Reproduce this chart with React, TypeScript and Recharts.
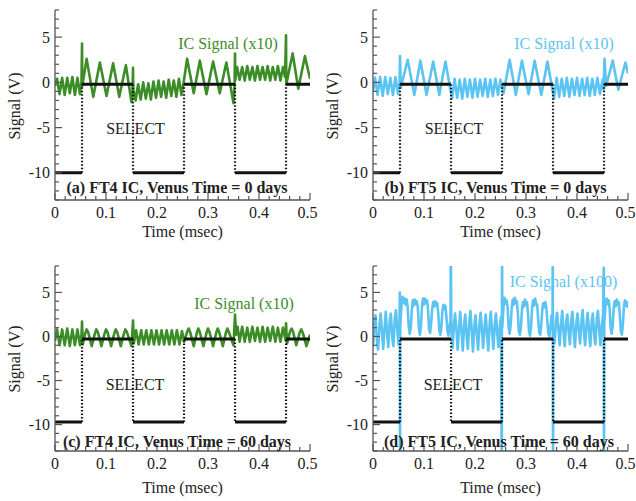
import React from 'react'
import { LineChart, Line, XAxis, YAxis } from 'recharts'

type Pt = [number, number]

// axis ticks
const xTicks = [0, 0.02, 0.04, 0.06, 0.08, 0.1, 0.12, 0.14, 0.16, 0.18, 0.2, 0.22, 0.24, 0.26, 0.28, 0.3, 0.32, 0.34, 0.36, 0.38, 0.4, 0.42, 0.44, 0.46, 0.48, 0.5]
const xMajor = [0, 0.1, 0.2, 0.3, 0.4, 0.5]
const yTicks = [-13, -12, -11, -10, -9, -8, -7, -6, -5, -4, -3, -2, -1, 0, 1, 2, 3, 4, 5, 6, 7, 8]
const yMajor = [-10, -5, 0, 5]

// SELECT line (V)
const selectTop: Pt[] = [[0, -10], [0.053, -10], [0.053, -0.2], [0.153, -0.2], [0.153, -10], [0.253, -10], [0.253, -0.2], [0.353, -0.2], [0.353, -10], [0.453, -10], [0.453, -0.2], [0.5, -0.2]]
const selectBottom: Pt[] = [[0, -9.7], [0.053, -9.7], [0.053, -0.3], [0.153, -0.3], [0.153, -9.7], [0.253, -9.7], [0.253, -0.3], [0.353, -0.3], [0.353, -9.7], [0.453, -9.7], [0.453, -0.3], [0.5, -0.3]]

// IC signals
const icA: Pt[] = [
  [0, -0.4], [0.004, 0.4], [0.009, -1.3], [0.014, 0.5], [0.019, -1.4], [0.024, 0.5], [0.029, -1.2], [0.034, 0.6], [0.039, -1.4], [0.044, 0.5], [0.049, -1.3], [0.052, 0.1],
  [0.053, 4.3], [0.0535, -0.4], [0.062, 2.6], [0.075, -1.6], [0.088, 2.2], [0.101, -1.5], [0.114, 2.1], [0.126, -1.6], [0.139, 1.9], [0.15, -2.2],
  [0.152, -1.0], [0.153, 1.6], [0.1535, -0.8], [0.158, -2.0], [0.163, -0.2], [0.168, -1.9], [0.173, 0.0], [0.178, -1.8], [0.183, -0.1], [0.188, -1.9], [0.193, 0.1], [0.198, -1.7], [0.203, 0.2], [0.208, -1.6], [0.213, 0.1], [0.218, -1.7], [0.223, 0.3], [0.228, -1.5], [0.233, 0.2], [0.238, -1.6], [0.243, 0.4], [0.248, -1.4], [0.253, 0.3],
  [0.259, 2.6], [0.272, -1.2], [0.284, 2.4], [0.297, -1.3], [0.31, 2.3], [0.323, -1.2], [0.336, 2.2], [0.35, -2.3],
  [0.352, -0.5], [0.353, 3.2], [0.3535, 0.2], [0.357, 1.7], [0.362, 0.3], [0.367, 1.7], [0.372, 0.2], [0.377, 1.8], [0.382, 0.3], [0.387, 1.7], [0.392, 0.2], [0.397, 1.8], [0.402, 0.3], [0.407, 1.7], [0.412, 0.3], [0.417, 1.8], [0.422, 0.2], [0.427, 1.7], [0.432, 0.3], [0.437, 1.8], [0.442, 0.2], [0.447, 1.7], [0.451, 0.6],
  [0.453, 5.2], [0.4535, -0.2], [0.466, 3.2], [0.477, -0.7], [0.49, 2.9], [0.5, 0.4],
]

const icB: Pt[] = [
  [0, -1.0], [0.004, 0.5], [0.009, -1.4], [0.014, 0.6], [0.019, -1.5], [0.024, 0.6], [0.029, -1.3], [0.034, 0.5], [0.039, -1.4], [0.044, 0.6], [0.049, -1.3], [0.052, 0.0],
  [0.053, 2.9], [0.0545, -0.6], [0.068, 2.5], [0.081, -1.4], [0.093, 2.4], [0.105, -1.4], [0.118, 2.3], [0.13, -1.4], [0.142, 2.3], [0.155, -1.8],
  [0.16, 0.4], [0.165, -1.7], [0.17, 0.3], [0.175, -1.8], [0.18, 0.4], [0.185, -1.6], [0.19, 0.3], [0.195, -1.7], [0.2, 0.4], [0.205, -1.6], [0.21, 0.3], [0.215, -1.5], [0.22, 0.4], [0.225, -1.6], [0.23, 0.3], [0.235, -1.5], [0.24, 0.4], [0.245, -1.4], [0.25, 0.3], [0.256, -1.2],
  [0.268, 2.5], [0.28, -1.4], [0.292, 2.4], [0.305, -1.3], [0.317, 2.4], [0.33, -1.4], [0.342, 2.3], [0.355, -1.8],
  [0.36, 0.5], [0.365, -1.6], [0.37, 0.4], [0.375, -1.5], [0.38, 0.5], [0.385, -1.6], [0.39, 0.4], [0.395, -1.4], [0.4, 0.5], [0.405, -1.5], [0.41, 0.4], [0.415, -1.4], [0.42, 0.5], [0.425, -1.5], [0.43, 0.4], [0.435, -1.4], [0.44, 0.5], [0.445, -1.3], [0.45, 0.3], [0.452, -0.8],
  [0.454, 2.6], [0.457, -0.4], [0.47, 2.4], [0.481, -0.8], [0.495, 2.2], [0.5, 1.0],
]

const icC: Pt[] = [
  [0, -0.5], [0.004, 0.8], [0.009, -1.0], [0.014, 0.8], [0.019, -1.0], [0.024, 0.9], [0.029, -1.1], [0.034, 0.8], [0.039, -1.0], [0.044, 0.8], [0.049, -1.0], [0.052, 0.2],
  [0.053, 1.7], [0.0545, -0.9], [0.059, 0.3], [0.062, 0.8], [0.065, 0.5], [0.072, -1.1],
  [0.078, 0.3], [0.081, 0.8], [0.084, 0.5], [0.091, -1.1],
  [0.097, 0.3], [0.1, 0.8], [0.103, 0.5], [0.11, -1.1],
  [0.116, 0.3], [0.119, 0.8], [0.122, 0.5], [0.129, -1.1],
  [0.135, 0.3], [0.138, 0.8], [0.141, 0.5], [0.15, -1.1],
  [0.153, 1.8], [0.1545, -0.8], [0.159, 0.7], [0.164, -0.9], [0.169, 0.7], [0.174, -0.9], [0.179, 0.7], [0.184, -0.9], [0.189, 0.7], [0.194, -0.9], [0.199, 0.7], [0.204, -0.9], [0.209, 0.7], [0.214, -0.9], [0.219, 0.7], [0.224, -0.9], [0.229, 0.7], [0.234, -0.9], [0.239, 0.7], [0.244, -0.9], [0.249, 0.6], [0.253, -0.6],
  [0.259, 0.5], [0.262, 0.9], [0.265, 0.5], [0.272, -1.1],
  [0.278, 0.4], [0.281, 0.9], [0.284, 0.5], [0.291, -1.1],
  [0.297, 0.4], [0.3, 0.9], [0.303, 0.5], [0.31, -1.1],
  [0.316, 0.4], [0.319, 0.9], [0.322, 0.5], [0.329, -1.1],
  [0.335, 0.4], [0.338, 0.9], [0.341, 0.5], [0.35, -1.0],
  [0.353, 2.5], [0.355, 0.2], [0.358, 1.1], [0.362, -0.6], [0.367, 1.1], [0.372, -0.6], [0.377, 1.0], [0.382, -0.6], [0.387, 1.1], [0.392, -0.5], [0.397, 1.0], [0.402, -0.6], [0.407, 1.1], [0.412, -0.6], [0.417, 1.0], [0.422, -0.5], [0.427, 1.1], [0.432, -0.6], [0.437, 1.0], [0.442, -0.6], [0.447, 1.0], [0.452, -0.4],
  [0.453, 1.5], [0.455, -0.8], [0.461, 0.6], [0.464, 0.9], [0.467, 0.5], [0.473, -1.0], [0.48, 0.5], [0.483, 0.8], [0.486, 0.4], [0.493, -1.1], [0.5, 0.2],
]

const icD: Pt[] = [
  [0, -1.2], [0.003, 1.8], [0.005, 2.4], [0.008, -0.8], [0.01, -1.5], [0.013, 1.5], [0.015, 2.6], [0.018, 0.2], [0.02, -1.4], [0.023, 1.2], [0.025, 2.8], [0.028, 0.0], [0.03, -1.2], [0.033, 1.9], [0.035, 2.6], [0.038, -0.3], [0.04, -1.1], [0.043, 2.2], [0.045, 3.0], [0.048, 0.4], [0.05, -0.9], [0.052, 1.5],
  [0.0525, 5.0], [0.053, -16], [0.0535, 1.2],
  [0.056, 3.6], [0.058, 4.5], [0.06, 3.8], [0.062, 4.3], [0.064, 3.6], [0.066, 4.2], [0.068, 3.3], [0.07, 1.2], [0.072, 0.3], [0.074, 0.9], [0.076, 2.9],
  [0.078, 4.1], [0.08, 3.5], [0.082, 4.2], [0.084, 3.7], [0.086, 4.0], [0.088, 3.2], [0.09, 0.9], [0.092, 0.2], [0.094, 1.2], [0.096, 3.4],
  [0.098, 4.3], [0.1, 3.6], [0.102, 4.3], [0.104, 3.8], [0.106, 4.1], [0.108, 3.0], [0.11, 0.8], [0.112, 0.4], [0.114, 1.5], [0.116, 3.1],
  [0.118, 3.9], [0.12, 3.4], [0.122, 4.0], [0.124, 3.5], [0.126, 3.8], [0.128, 2.6], [0.13, 0.7], [0.132, 0.2], [0.134, 1.0], [0.136, 2.8],
  [0.138, 3.6], [0.14, 3.1], [0.142, 3.5], [0.144, 2.2], [0.146, 0.6], [0.148, 0.1], [0.15, 1.2], [0.152, 1.8],
  [0.1525, 12], [0.1535, 1.0],
  [0.156, -1.3], [0.159, 1.6], [0.161, 2.6], [0.164, 0.4], [0.166, -1.5], [0.169, 1.2], [0.171, 2.8], [0.174, 0.2], [0.176, -1.6], [0.179, 1.5], [0.181, 2.5], [0.184, -0.2], [0.186, -1.4], [0.189, 1.8], [0.191, 2.9], [0.194, 0.3], [0.196, -1.7], [0.199, 1.4], [0.201, 2.4], [0.204, 0.0], [0.206, -1.5], [0.209, 1.6], [0.211, 2.7], [0.214, 0.4], [0.216, -1.3], [0.219, 1.3], [0.221, 2.5], [0.224, -0.1], [0.226, -1.6], [0.229, 1.7], [0.231, 2.8], [0.234, 0.2], [0.236, -1.4], [0.239, 1.5], [0.241, 2.6], [0.244, 0.1], [0.246, -1.2], [0.249, 1.4], [0.251, 2.2],
  [0.2525, -16], [0.253, 12], [0.2535, 1.0],
  [0.256, 3.5], [0.258, 4.4], [0.26, 3.7], [0.262, 4.1], [0.264, 3.3], [0.266, 1.0], [0.268, 0.3], [0.27, 1.3], [0.272, 3.2],
  [0.274, 4.2], [0.276, 3.6], [0.278, 4.4], [0.28, 3.8], [0.282, 4.0], [0.284, 2.7], [0.286, 0.6], [0.288, 0.2], [0.29, 1.0], [0.292, 3.0],
  [0.294, 3.9], [0.296, 3.4], [0.298, 4.2], [0.3, 3.6], [0.302, 3.9], [0.304, 2.5], [0.306, 0.5], [0.308, 0.1], [0.31, 1.2], [0.312, 3.3],
  [0.314, 4.1], [0.316, 3.5], [0.318, 4.3], [0.32, 3.7], [0.322, 3.6], [0.324, 1.8], [0.326, 0.4], [0.328, 0.2], [0.33, 1.4], [0.332, 3.1],
  [0.334, 3.8], [0.336, 3.3], [0.338, 3.9], [0.34, 3.2], [0.342, 1.6], [0.344, 0.3], [0.346, 0.0], [0.348, 1.1], [0.35, 2.4], [0.352, 1.2],
  [0.3525, 12], [0.353, -16], [0.3535, 0.8],
  [0.356, -0.8], [0.359, 1.9], [0.361, 2.7], [0.364, 0.5], [0.366, -1.0], [0.369, 1.6], [0.371, 2.9], [0.374, 0.2], [0.376, -1.1], [0.379, 1.8], [0.381, 2.5], [0.384, 0.3], [0.386, -0.9], [0.389, 2.0], [0.391, 2.8], [0.394, 0.1], [0.396, -1.2], [0.399, 1.7], [0.401, 2.6], [0.404, 0.4], [0.406, -0.8], [0.409, 1.9], [0.411, 3.0], [0.414, 0.2], [0.416, -1.0], [0.419, 1.6], [0.421, 2.7], [0.424, 0.3], [0.426, -1.1], [0.429, 1.8], [0.431, 2.6], [0.434, 0.0], [0.436, -0.9], [0.439, 2.1], [0.441, 2.9], [0.444, 0.4], [0.446, -1.0], [0.449, 1.5], [0.451, 2.3],
  [0.4525, 7.8], [0.453, -16], [0.4535, 1.5],
  [0.456, 3.6], [0.458, 4.3], [0.46, 3.7], [0.462, 4.1], [0.464, 3.2], [0.466, 1.0], [0.468, 0.3], [0.47, 1.2], [0.472, 3.3], [0.474, 4.0], [0.476, 3.4], [0.478, 4.2], [0.48, 3.6], [0.482, 3.9], [0.484, 2.4], [0.486, 0.6], [0.488, 0.2], [0.49, 1.4], [0.492, 3.4], [0.494, 4.1], [0.496, 3.5], [0.498, 3.9], [0.5, 3.2],
]

const icLabels = ['IC Signal (x10)', 'IC Signal (x10)', 'IC Signal (x10)', 'IC Signal (x100)']
const panelLabels = ['(a) FT4 IC, Venus Time = 0 days', '(b) FT5 IC, Venus Time = 0 days', '(c) FT4 IC, Venus Time = 60 days', '(d) FT5 IC, Venus Time = 60 days']

const GREEN = '#3c8c28'
const BLUE = '#5cc4f2'
const FRAME = '#555'
const INK = '#222'
const FONT = "'Liberation Serif', 'Times New Roman', serif"

const rows = (pts: Pt[]) => pts.map(([t, v]) => ({ t, v }))

// split select trace into flat runs and vertical edges
function splitSelect(pts: Pt[]) {
  const flat: { t: number; v: number | null }[] = []
  const edge: { t: number; v: number | null }[] = []
  for (let i = 0; i < pts.length - 1; i++) {
    const [t0, v0] = pts[i]
    const [t1, v1] = pts[i + 1]
    const target = t0 === t1 ? edge : flat
    target.push({ t: t0, v: v0 }, { t: t1, v: v1 }, { t: t1, v: null })
  }
  return { flat, edge }
}

const BottomTick = (p: any) => {
  const v = p.payload.value
  const major = xMajor.includes(v)
  // last label sits at the page edge, nudge it in a little
  const lx = v === 0.5 ? p.x - 2.5 : p.x
  return (
    <g>
      <line x1={p.x} x2={p.x} y1={p.y} y2={p.y - (major ? 7 : 4)} stroke={FRAME} strokeWidth={1.2} />
      {major && <text x={lx} y={p.y + 18} textAnchor="middle" fontSize={16} fontFamily={FONT} fill={INK}>{String(v)}</text>}
    </g>
  )
}
const TopTick = (p: any) => {
  const major = xMajor.includes(p.payload.value)
  return <line x1={p.x} x2={p.x} y1={p.y} y2={p.y + (major ? 7 : 4)} stroke={FRAME} strokeWidth={1.2} />
}
const LeftTick = (p: any) => {
  const major = yMajor.includes(p.payload.value)
  return (
    <g>
      <line x1={p.x} x2={p.x + (major ? 7 : 4)} y1={p.y} y2={p.y} stroke={FRAME} strokeWidth={1.2} />
      {major && <text x={p.x - 5} y={p.y + 5.5} textAnchor="end" fontSize={16} fontFamily={FONT} fill={INK}>{String(p.payload.value)}</text>}
    </g>
  )
}
const RightTick = (p: any) => {
  const major = yMajor.includes(p.payload.value)
  return <line x1={p.x} x2={p.x - (major ? 7 : 4)} y1={p.y} y2={p.y} stroke={FRAME} strokeWidth={1.2} />
}

type PanelProps = {
  left: number; top: number; height: number; marginTop: number; xh: number
  ic: Pt[]; select: Pt[]; color: string; icWidth: number
}

function Panel({ left, top, height, marginTop, xh, ic, select, color, icWidth }: PanelProps) {
  const { flat, edge } = splitSelect(select)
  const axisLine = { stroke: FRAME, strokeWidth: 1.3 }
  return (
    <div style={{ position: 'absolute', left, top }}>
      <LineChart width={330} height={height} margin={{ top: marginTop, right: 20, bottom: 0, left: 0 }}>
        <XAxis xAxisId="b" dataKey="t" type="number" domain={[0, 0.5]} ticks={xTicks} interval={0} tickSize={0} tickMargin={0} height={xh} tick={BottomTick} axisLine={axisLine} allowDataOverflow />
        <XAxis xAxisId="tp" orientation="top" dataKey="t" type="number" domain={[0, 0.5]} ticks={xTicks} interval={0} tickSize={0} tickMargin={0} height={0} tick={TopTick} axisLine={axisLine} allowDataOverflow />
        <YAxis yAxisId="l" type="number" domain={[-13, 8]} ticks={yTicks} interval={0} tickSize={0} tickMargin={0} width={55} tick={LeftTick} axisLine={axisLine} allowDataOverflow />
        <YAxis yAxisId="r" orientation="right" type="number" domain={[-13, 8]} ticks={yTicks} interval={0} tickSize={0} tickMargin={0} width={0} tick={RightTick} axisLine={axisLine} allowDataOverflow />
        <Line xAxisId="b" yAxisId="l" data={rows(ic)} dataKey="v" type="linear" stroke={color} strokeWidth={icWidth} dot={false} isAnimationActive={false} strokeLinejoin="round" />
        <Line xAxisId="b" yAxisId="l" data={flat} dataKey="v" type="linear" stroke="#111" strokeWidth={3} dot={false} isAnimationActive={false} />
        <Line xAxisId="b" yAxisId="l" data={edge} dataKey="v" type="linear" stroke="#111" strokeWidth={2.2} strokeDasharray="1.5 2" dot={false} isAnimationActive={false} />
      </LineChart>
    </div>
  )
}

const txt = { fontFamily: FONT, fontSize: 16 }

export default function App() {
  return (
    <div style={{ position: 'absolute', left: 0, top: 0, width: 636, height: 501, background: '#fff', overflow: 'hidden' }}>
      <Panel left={0} top={0} height={250} marginTop={10} xh={50} ic={icA} select={selectTop} color={GREEN} icWidth={2.6} />
      <Panel left={318} top={0} height={250} marginTop={10} xh={50} ic={icB} select={selectTop} color={BLUE} icWidth={2.6} />
      <Panel left={0} top={245} height={256} marginTop={21} xh={50} ic={icC} select={selectBottom} color={GREEN} icWidth={2.6} />
      <Panel left={318} top={245} height={256} marginTop={21} xh={50} ic={icD} select={selectBottom} color={BLUE} icWidth={2.6} />
      <svg width={636} height={501} style={{ position: 'absolute', left: 0, top: 0, pointerEvents: 'none' }}>
        <g {...txt} fill={INK}>
          <text x={182.5} y={237} textAnchor="middle">Time (msec)</text>
          <text x={500.5} y={237} textAnchor="middle">Time (msec)</text>
          <text x={182.5} y={493} textAnchor="middle">Time (msec)</text>
          <text x={500.5} y={493} textAnchor="middle">Time (msec)</text>
          <text transform="translate(20,106) rotate(-90)" textAnchor="middle">Signal (V)</text>
          <text transform="translate(338,106) rotate(-90)" textAnchor="middle">Signal (V)</text>
          <text transform="translate(20,359) rotate(-90)" textAnchor="middle">Signal (V)</text>
          <text transform="translate(338,359) rotate(-90)" textAnchor="middle">Signal (V)</text>
          <text x={135.5} y={133.5} textAnchor="middle">SELECT</text>
          <text x={454} y={133.5} textAnchor="middle">SELECT</text>
          <text x={135} y={389.5} textAnchor="middle">SELECT</text>
          <text x={453} y={389.5} textAnchor="middle">SELECT</text>
          <text x={177} y={192.5} textAnchor="middle" fontWeight="bold">{panelLabels[0]}</text>
          <text x={495.5} y={192.5} textAnchor="middle" fontWeight="bold">{panelLabels[1]}</text>
          <text x={177} y={446.5} textAnchor="middle" fontWeight="bold">{panelLabels[2]}</text>
          <text x={499} y={446.5} textAnchor="middle" fontWeight="bold">{panelLabels[3]}</text>
        </g>
        <text {...txt} x={228} y={48.5} textAnchor="middle" fill={GREEN}>{icLabels[0]}</text>
        <text {...txt} x={564} y={48.5} textAnchor="middle" fill={BLUE}>{icLabels[1]}</text>
        <text {...txt} x={244} y={308.5} textAnchor="middle" fill={GREEN}>{icLabels[2]}</text>
        <text {...txt} x={563.5} y={286.5} textAnchor="middle" fill={BLUE}>{icLabels[3]}</text>
      </svg>
    </div>
  )
}
